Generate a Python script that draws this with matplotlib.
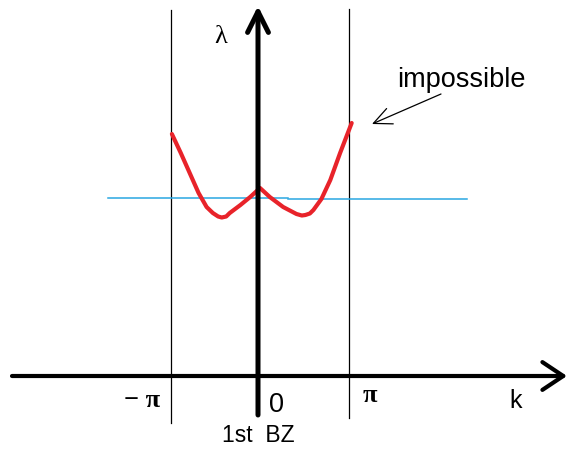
import numpy as np
import matplotlib.pyplot as plt

# band lambda(k), k in units of pi
k_vals = [-0.99, -0.89, -0.78, -0.69, -0.60, -0.53, -0.47, -0.43, -0.38, -0.34, -0.22, -0.11, 0.0,
          0.11, 0.26, 0.41, 0.47, 0.51, 0.56, 0.60, 0.69, 0.79, 0.90, 1.03]
lam_vals = [2.42, 2.23, 2.01, 1.83, 1.69, 1.63, 1.595, 1.585, 1.595, 1.63, 1.71, 1.79, 1.88,
            1.79, 1.69, 1.62, 1.605, 1.61, 1.625, 1.66, 1.77, 1.96, 2.23, 2.53]

# zone boundaries (-pi, pi)
k_bz = [-1.0, 1.0]
bz_bottom = [-0.47, -0.42]
bz_top = [3.66, 3.67]

# horizontal level (drawn in two strokes in the sketch)
level_k = [[-1.71, 0.32], [0.32, 2.33]]
level_lam = [1.78, 1.77]

W, H = 568, 449
X0, Y0, SX, SY = 260, 376, 89, 100   # pixel origin and pixels per unit


def px(x, y):
    return (x - X0) / SX, (Y0 - y) / SY


fig = plt.figure(figsize=(W / 100, H / 100), dpi=100)
ax = fig.add_axes([0, 0, 1, 1])
ax.set_xlim(px(0, 0)[0], px(W, 0)[0])
ax.set_ylim(px(0, H)[1], px(0, 0)[1])
ax.axis('off')

# brillouin zone boundaries
for kb, b0, b1 in zip(k_bz, bz_bottom, bz_top):
    ax.plot([kb, kb], [b0, b1], color='black', lw=0.9)

# horizontal level
for seg, lv in zip(level_k, level_lam):
    ax.plot(seg, [lv, lv], color='#2aa7e2', lw=1.1)

# band
ax.plot(k_vals, lam_vals, color='#e8232a', lw=3.0, solid_capstyle='round',
        solid_joinstyle='round', zorder=4)

# axes with open arrow heads
ax.annotate('', xy=px(567, 376), xytext=px(12, 376),
            arrowprops=dict(arrowstyle='->,head_length=15,head_width=10', lw=3,
                            color='black', mutation_scale=1, shrinkA=0, shrinkB=0))
ax.annotate('', xy=px(258, 6), xytext=px(258, 415),
            arrowprops=dict(arrowstyle='->,head_length=15,head_width=7.5', lw=3.6,
                            color='black', mutation_scale=1, shrinkA=0, shrinkB=0),
            zorder=5)

# "impossible" pointer
ax.annotate('', xy=px(372, 124), xytext=px(441, 94),
            arrowprops=dict(arrowstyle='->,head_length=13,head_width=6', lw=0.9,
                            color='black', mutation_scale=1, shrinkA=0, shrinkB=0))


def label(x, y, s, size, **kw):
    fig.text(x / W, 1 - y / H, s, fontsize=size, va='baseline', **kw)


sans = 'Liberation Sans'
serif = 'Liberation Serif'
label(397, 87, 'impossible', 19.5, family=sans)
label(214, 43, 'λ', 19, family=serif)
label(509, 408, 'k', 18, family=sans)
label(269, 412, '0', 19.5, family=sans)
label(363, 402, 'π', 19, family=serif, fontweight='semibold')
label(124, 407, '− π', 19, family=serif, fontweight='semibold')
label(222, 442, '1st  BZ', 16.5, family=sans)

fig.savefig('out.png', dpi=100)
